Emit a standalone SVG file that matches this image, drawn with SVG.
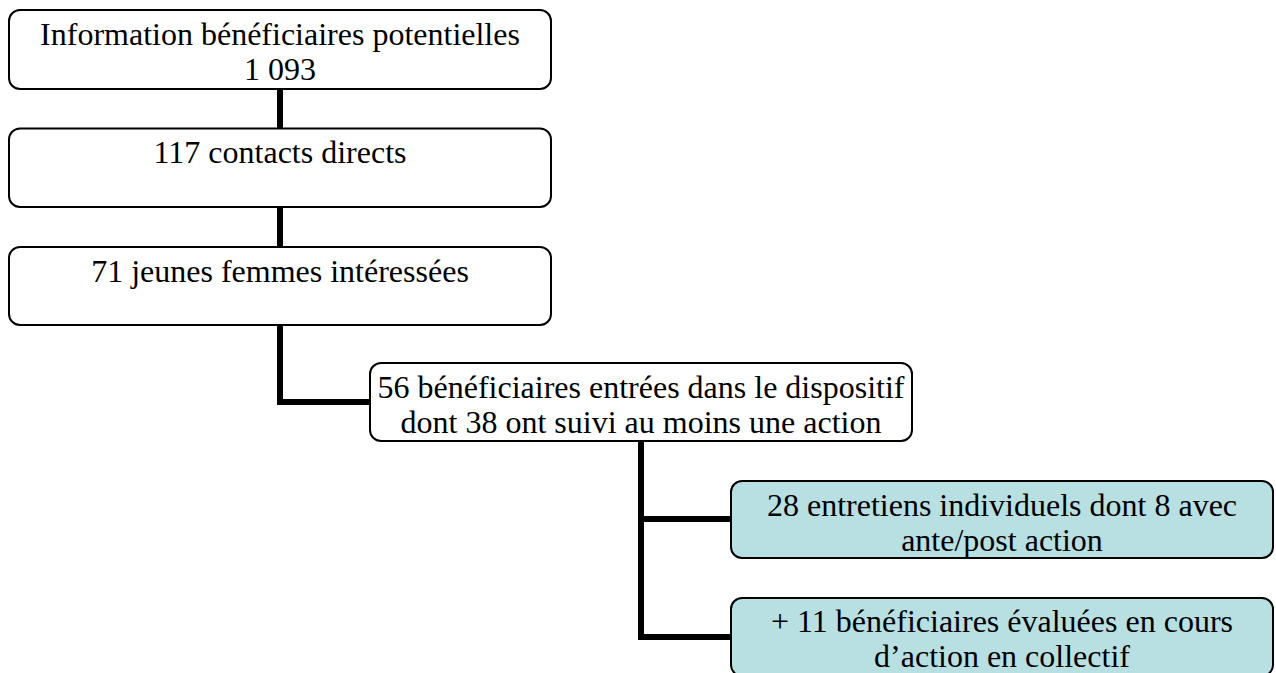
<svg xmlns="http://www.w3.org/2000/svg" width="1276" height="673" viewBox="0 0 1276 673">
<style>
.box{fill:#ffffff;stroke:#000000;stroke-width:2}
.teal{fill:#b8dfe2;stroke:#000000;stroke-width:2}
.t{font-size:32px;fill:#000000;text-anchor:middle}
.c{fill:none;stroke:#000000;stroke-width:6}
</style>
<rect width="1276" height="673" fill="#ffffff"/>
<g id="connectors">
<line class="c" x1="280" y1="89" x2="280" y2="129"/>
<line class="c" x1="280" y1="207" x2="280" y2="248"/>
<polyline class="c" points="280,325 280,402 371,402"/>
<polyline class="c" points="641,441 641,640"/>
<line class="c" x1="638" y1="519" x2="732" y2="519"/>
<line class="c" x1="638" y1="637" x2="732" y2="637"/>
</g>
<g font-family="Liberation Serif, Tinos, Times New Roman, DejaVu Serif, serif">
<g id="n1">
<rect class="box" x="9" y="10" width="542" height="79" rx="11"/>
<text class="t" x="280" y="45">Information bénéficiaires potentielles</text>
<text class="t" x="280" y="80">1 093</text>
</g>
<g id="n2">
<rect class="box" x="9" y="128.5" width="542" height="78.5" rx="11"/>
<text class="t" x="280" y="163">117 contacts directs</text>
</g>
<g id="n3">
<rect class="box" x="9" y="247" width="542" height="78" rx="11"/>
<text class="t" x="280" y="282">71 jeunes femmes intéressées</text>
</g>
<g id="n4">
<rect class="box" x="370" y="363" width="542" height="78" rx="11"/>
<text class="t" x="641" y="398">56 bénéficiaires entrées dans le dispositif</text>
<text class="t" x="641" y="433">dont 38 ont suivi au moins une action</text>
</g>
<g id="n5">
<rect class="teal" x="731" y="481" width="542" height="77" rx="11"/>
<text class="t" x="1002" y="516">28 entretiens individuels dont 8 avec</text>
<text class="t" x="1002" y="551">ante/post action</text>
</g>
<g id="n6">
<rect class="teal" x="731" y="598" width="542" height="78" rx="11"/>
<text class="t" x="1002" y="632">+ 11 bénéficiaires évaluées en cours</text>
<text class="t" x="1002" y="667">d’action en collectif</text>
</g>
</g>
</svg>
